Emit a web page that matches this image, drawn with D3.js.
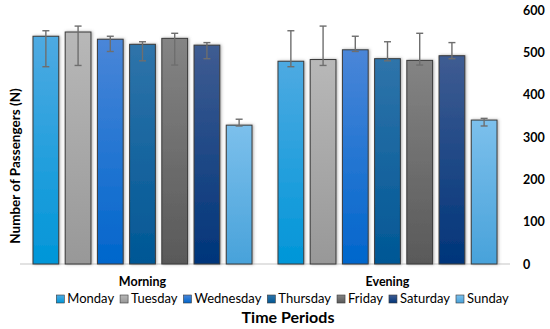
<!DOCTYPE html>
<html>
<head>
<meta charset="utf-8">
<style>
  body { margin: 0; background: #fff; }
  text { font-family: Lato, "Open Sans", sans-serif; fill: #000; }
</style>
</head>
<body>
<div id="chart"></div>
<script src="https://d3js.org/d3.v7.min.js"></script>
<script>
// data
var periods = ["Morning", "Evening"];
var days = ["Monday", "Tuesday", "Wednesday", "Thursday", "Friday", "Saturday", "Sunday"];
var morning = [538, 548, 531, 519, 533, 517, 328];
var evening = [479, 483, 506, 485, 481, 492, 340];
// error bar ends
var errLow = [466, 469, 502, 480, 470, 485, 326];
var errHigh = [551, 562, 538, 525, 545, 523, 342];
var errHighEvening = [551, 562, 538, 525, 545, 523, 344];
var yTicks = [0, 100, 200, 300, 400, 500, 600];

var values = { Morning: morning, Evening: evening };
var highs = { Morning: errHigh, Evening: errHighEvening };

// colours (top / bottom of each bar gradient)
var topColors = ["#4eaae2", "#b8b8b8", "#4a86d8", "#2f74aa", "#848484", "#3f5c92", "#7cc0ec"];
var botColors = ["#0096d8", "#989898", "#0066cc", "#005795", "#595959", "#00357a", "#48a2da"];

var width = 550, height = 329;
var svg = d3.select("#chart").append("svg")
  .attr("width", width)
  .attr("height", height);

var defs = svg.append("defs");
days.forEach(function(d, i) {
  var g = defs.append("linearGradient")
    .attr("id", "grad" + i)
    .attr("x1", 0).attr("y1", 0).attr("x2", 0).attr("y2", 1);
  g.append("stop").attr("offset", "0%").attr("stop-color", topColors[i]);
  g.append("stop").attr("offset", "100%").attr("stop-color", botColors[i]);
});
var f = defs.append("filter").attr("id", "shadow")
  .attr("x", "-30%").attr("y", "-10%").attr("width", "160%").attr("height", "120%");
f.append("feDropShadow")
  .attr("dx", 1).attr("dy", 0).attr("stdDeviation", 1.6)
  .attr("flood-color", "#666").attr("flood-opacity", 0.55);

// scales
var x0 = d3.scaleBand()
  .domain(periods)
  .range([20, 510])
  .paddingInner(0.106)
  .paddingOuter(0.053);

var x1 = d3.scaleBand()
  .domain(days)
  .range([0, x0.bandwidth()])
  .paddingInner(0.2);

var y = d3.scaleLinear()
  .domain([0, 600])
  .range([264, 10]);

// axis baseline
svg.append("line")
  .attr("x1", 20).attr("x2", 510)
  .attr("y1", y(0)).attr("y2", y(0))
  .attr("stroke", "#d9d9d9")
  .attr("stroke-width", 1.5);

// right y axis (labels only)
var yAxis = svg.append("g")
  .attr("transform", "translate(518,0)")
  .call(d3.axisRight(y).tickValues(yTicks).tickSize(0).tickPadding(5));
yAxis.select(".domain").remove();
yAxis.selectAll("text")
  .style("font-family", "Lato, sans-serif")
  .style("font-size", "12.5px")
  .style("font-weight", "bold")
  .attr("fill", "#000");

// bars
periods.forEach(function(p) {
  var g = svg.append("g").attr("transform", "translate(" + x0(p) + ",0)");

  g.selectAll("rect")
    .data(days)
    .enter().append("rect")
    .attr("x", function(d) { return x1(d); })
    .attr("y", function(d, i) { return y(values[p][i]); })
    .attr("width", x1.bandwidth())
    .attr("height", function(d, i) { return y(0) - y(values[p][i]); })
    .attr("fill", function(d, i) { return "url(#grad" + i + ")"; })
    .attr("stroke", "#3a3a3a")
    .attr("stroke-width", 1)
    .attr("filter", "url(#shadow)");

  // error bars
  var eb = g.selectAll(".err")
    .data(days)
    .enter().append("g")
    .attr("class", "err")
    .attr("transform", function(d) { return "translate(" + (x1(d) + x1.bandwidth() / 2) + ",0)"; });
  eb.append("line")
    .attr("y1", function(d, i) { return y(errLow[i]); })
    .attr("y2", function(d, i) { return y(highs[p][i]); });
  eb.append("line")
    .attr("x1", -3.5).attr("x2", 3.5)
    .attr("y1", function(d, i) { return y(errLow[i]); })
    .attr("y2", function(d, i) { return y(errLow[i]); });
  eb.append("line")
    .attr("x1", -3.5).attr("x2", 3.5)
    .attr("y1", function(d, i) { return y(highs[p][i]); })
    .attr("y2", function(d, i) { return y(highs[p][i]); });
  eb.selectAll("line")
    .attr("stroke", "#6e6e6e")
    .attr("stroke-width", 1.4);

  // category label
  svg.append("text")
    .attr("x", x0(p) + x0.bandwidth() / 2)
    .attr("y", 286)
    .attr("text-anchor", "middle")
    .style("font-size", "12.5px")
    .style("font-weight", "bold")
    .text(p);
});

// y axis title
svg.append("text")
  .attr("transform", "translate(20,166) rotate(-90)")
  .attr("text-anchor", "middle")
  .style("font-size", "13.5px")
  .style("font-weight", "bold")
  .text("Number of Passengers (N)");

// legend
var legend = svg.append("g");
var lx = 0;
days.forEach(function(d, i) {
  var item = legend.append("g").attr("transform", "translate(" + lx + ",0)");
  item.append("rect")
    .attr("x", 0).attr("y", -8)
    .attr("width", 8).attr("height", 8)
    .attr("fill", "url(#grad" + i + ")")
    .attr("stroke", "#3a3a3a")
    .attr("stroke-width", 0.6);
  var t = item.append("text")
    .attr("x", 11)
    .attr("y", 0)
    .style("font-size", "13px")
    .text(d);
  lx += 11 + t.node().getComputedTextLength() + 6;
});
lx -= 6;
legend.attr("transform", "translate(" + (282.5 - lx / 2) + ",303)");

// x axis title
svg.append("text")
  .attr("x", 288)
  .attr("y", 323)
  .attr("text-anchor", "middle")
  .style("font-size", "16px")
  .style("font-weight", "bold")
  .text("Time Periods");
</script>
</body>
</html>
